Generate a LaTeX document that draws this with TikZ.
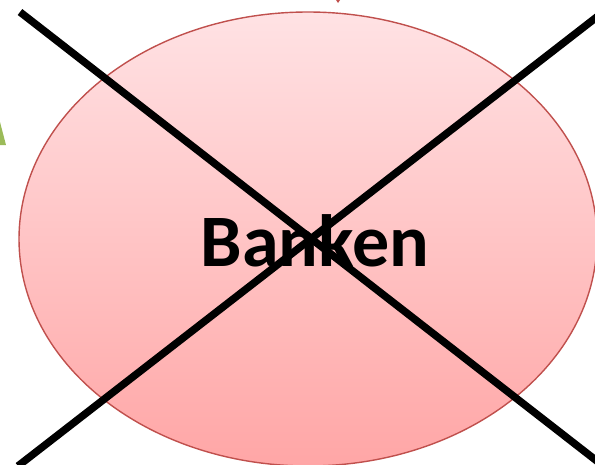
\documentclass[tikz,border=0pt]{standalone}
\usepackage{fontspec}
\setmainfont{Carlito}
\definecolor{topPink}{RGB}{255,226,228}
\definecolor{botPink}{RGB}{255,166,166}
\definecolor{rimRed}{RGB}{192,80,77}
\definecolor{leafGreen}{RGB}{155,187,89}
\tikzset{
  bankoval/.style={ellipse, draw=rimRed, line width=1.4pt, top color=topPink, bottom color=botPink, minimum width=578pt, minimum height=454pt, inner sep=0pt},
  crossline/.style={line width=7.5pt, black},
  banktext/.style={font=\bfseries\fontsize{74}{86}\selectfont, text=black}
}
\usetikzlibrary{shapes.geometric}
\begin{document}
\begin{tikzpicture}[x=1pt,y=-1pt]
\useasboundingbox (0,0) rectangle (595,464);
\fill[leafGreen] (0,122) -- (6,145) -- (0,145) -- cycle;
\fill[rimRed] (336,0) -- (340,0) -- (338,3) -- cycle;
\node[bankoval] (oval) at (308,239) {};
\node[banktext] (label) at (315,241) {Banken};
\coordinate (a1) at (20,12);
\coordinate (a2) at (620,479);
\coordinate (b1) at (620,-1);
\coordinate (b2) at (18,466);
\draw[crossline] (a1) -- (a2);
\draw[crossline] (b1) -- (b2);
\end{tikzpicture}
\end{document}
